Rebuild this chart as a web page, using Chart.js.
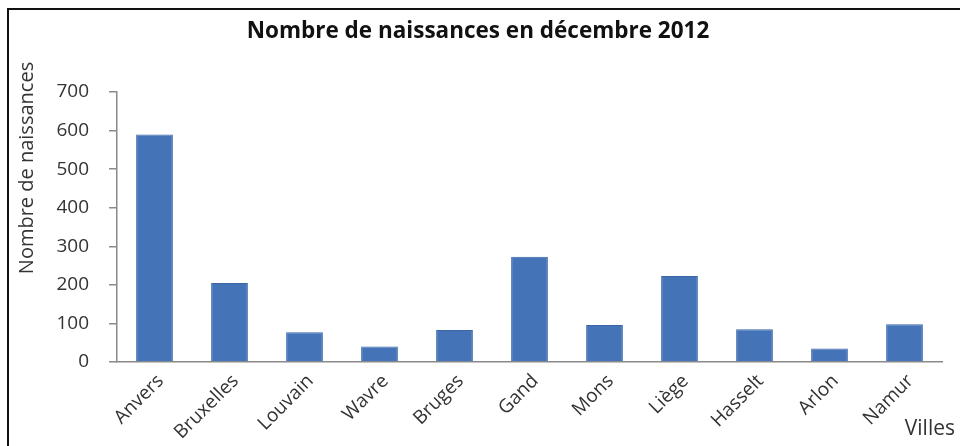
<!DOCTYPE html>
<html lang="fr">
<head>
<meta charset="utf-8">
<title>Nombre de naissances en décembre 2012</title>
<script src="https://cdn.jsdelivr.net/npm/chart.js@4/dist/chart.umd.min.js"></script>
<style>
  html, body { margin: 0; padding: 0; background: #fff; }
  #wrap { position: relative; width: 960px; height: 446px; overflow: hidden; }
  #frame {
    position: absolute; left: 7px; top: 8px; width: 980px; height: 460px;
    border-left: 2px solid #111; border-top: 2px solid #111;
    pointer-events: none;
  }
</style>
</head>
<body>
<div id="wrap">
  <canvas id="myChart" width="960" height="446"></canvas>
  <div id="frame"></div>
</div>
<script>
'use strict';

// -------------------- data --------------------
const villes = ['Anvers', 'Bruxelles', 'Louvain', 'Wavre', 'Bruges', 'Gand', 'Mons', 'Liège', 'Hasselt', 'Arlon', 'Namur'];
const naissances = [590, 205, 77, 40, 83, 273, 96, 223, 85, 35, 98];
const yTicks = [0, 100, 200, 300, 400, 500, 600, 700];

const titre = 'Nombre de naissances en décembre 2012';
const titreY = 'Nombre de naissances';
const titreX = 'Villes';

const FONT = '"Open Sans", "DejaVu Sans", sans-serif';

// -------------------- textes hors axes --------------------
// titre, titre vertical et "Villes" sont placés à la main comme sur l'original
const textPlugin = {
  id: 'textes',
  afterDraw(chart) {
    const ctx = chart.ctx;
    ctx.save();
    ctx.fillStyle = '#111';
    ctx.font = 'bold 22.5px ' + FONT;
    ctx.textAlign = 'center';
    ctx.textBaseline = 'middle';
    ctx.fillText(titre, 478, 32);

    ctx.fillStyle = '#333';
    ctx.font = '20px ' + FONT;
    ctx.translate(27, 168);
    ctx.rotate(-Math.PI / 2);
    ctx.fillText(titreY, 0, 0);
    ctx.restore();

    ctx.save();
    ctx.fillStyle = '#333';
    ctx.font = '21px ' + FONT;
    ctx.textAlign = 'right';
    ctx.textBaseline = 'middle';
    ctx.fillText(titreX, 955, 429);
    ctx.restore();
  }
};

// -------------------- Chart.js --------------------
{
  const ctx = document.getElementById('myChart').getContext('2d');
  const myChart = new Chart(ctx, {
    type: 'bar',
    data: {
      labels: villes,
      datasets: [{
        label: titreY,
        data: naissances,
        backgroundColor: '#4473b8',
        borderColor: '#3a66a8',
        borderWidth: 1,
        categoryPercentage: 1,
        barPercentage: 0.49
      }]
    },
    options: {
      responsive: false,
      animation: false,
      layout: {
        padding: { left: 0, right: 18, top: 92, bottom: 0 }
      },
      plugins: {
        legend: { display: false },
        title: { display: false },
        tooltip: { enabled: false }
      },
      scales: {
        x: {
          afterFit(scale) { scale.height = 84; },
          grid: { display: false, drawTicks: false },
          border: { display: true, color: '#8a8a8a', width: 1.5 },
          ticks: {
            autoSkip: false,
            minRotation: 45,
            maxRotation: 45,
            padding: 8,
            labelOffset: 6,
            color: '#333',
            font: { family: FONT, size: 19 }
          }
        },
        y: {
          min: 0,
          max: 700,
          afterFit(scale) { scale.width = 117; },
          afterBuildTicks(scale) {
            scale.ticks = yTicks.map(v => ({ value: v }));
          },
          grid: {
            drawOnChartArea: false,
            drawTicks: true,
            tickLength: 8,
            color: '#8a8a8a',
            lineWidth: 1.5
          },
          border: { display: true, color: '#8a8a8a', width: 1.5 },
          ticks: {
            padding: 20,
            color: '#333',
            font: { family: FONT, size: 19 }
          }
        }
      }
    },
    plugins: [textPlugin]
  });
}
</script>
</body>
</html>
